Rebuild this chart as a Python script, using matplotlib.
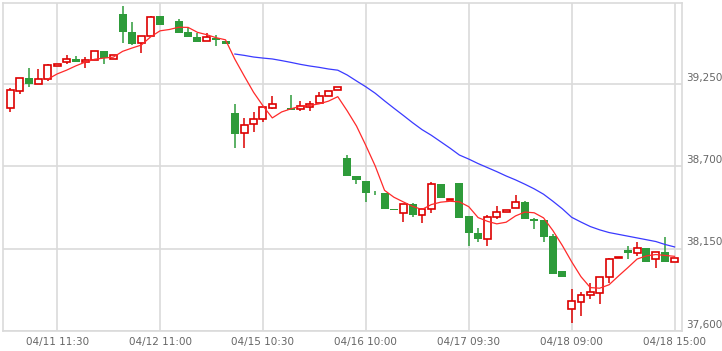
#!/usr/bin/env python
"""Intraday candlestick chart with moving averages."""

import numpy as np
import matplotlib
matplotlib.use('Agg')
import matplotlib.pyplot as plt


# Chart data
# ----------

# 30-minute bars, one list per field
opens = [39090, 39205, 39290, 39250, 39283, 39374, 39401, 39417, 39399, 39410,
         39470, 39421, 39720, 39595, 39524, 39573, 39708, 39648, 39673, 39595,
         39568, 39535, 39559, 39539, 39060, 38923, 38983, 39016, 39090, 39117,
         39090, 39085, 39100, 39123, 39170, 39212, 38759, 38637, 38604, 38524,
         38522, 38410, 38388, 38448, 38375, 38415, 38584, 38476, 38588, 38370,
         38254, 38214, 38361, 38395, 38421, 38461, 38348, 38343, 38232, 37998,
         37750, 37797, 37840, 37857, 37960, 38085, 38141, 38121, 38154, 38080,
         38127, 38064]
highs = [39223, 39292, 39357, 39350, 39384, 39386, 39446, 39439, 39434, 39470,
         39470, 39444, 39773, 39664, 39573, 39706, 39708, 39648, 39686, 39628,
         39591, 39591, 39581, 39539, 39118, 39023, 39063, 39096, 39172, 39117,
         39174, 39140, 39140, 39194, 39203, 39230, 38773, 38637, 38604, 38537,
         38522, 38410, 38448, 38455, 38415, 38595, 38584, 38480, 38588, 38370,
         38288, 38374, 38435, 38408, 38508, 38472, 38358, 38343, 38248, 37998,
         37880, 37862, 37920, 37960, 38089, 38094, 38169, 38194, 38154, 38127,
         38225, 38087]
lows = [39063, 39183, 39230, 39250, 39272, 39372, 39384, 39399, 39357, 39410,
        39386, 39421, 39528, 39513, 39457, 39573, 39644, 39642, 39591, 39568,
        39533, 39535, 39506, 39521, 38822, 38822, 38927, 39000, 39083, 39115,
        39080, 39073, 39071, 39123, 39170, 39212, 38639, 38582, 38461, 38506,
        38415, 38408, 38328, 38365, 38325, 38388, 38486, 38476, 38352, 38165,
        38194, 38169, 38348, 38395, 38421, 38348, 38285, 38198, 37980, 37964,
        37653, 37697, 37815, 37780, 37924, 38085, 38082, 38098, 38060, 38020,
        38064, 38064]
closes = [39212, 39290, 39254, 39283, 39377, 39384, 39417, 39399, 39410, 39470,
          39426, 39444, 39595, 39519, 39573, 39698, 39644, 39642, 39591, 39568,
          39533, 39564, 39544, 39521, 38916, 38976, 39016, 39096, 39116, 39115,
          39080, 39105, 39120, 39170, 39203, 39230, 38639, 38606, 38522, 38520,
          38415, 38408, 38448, 38372, 38415, 38582, 38486, 38480, 38352, 38254,
          38218, 38361, 38395, 38408, 38461, 38348, 38338, 38225, 37984, 37964,
          37802, 37840, 37862, 37960, 38080, 38094, 38118, 38154, 38064, 38127,
          38064, 38087]

# short moving average, starts at bar 4
ma_short = [39283, 39318, 39343, 39372, 39397, 39416, 39424, 39430, 39469,
            39491, 39511, 39566, 39606, 39615, 39630, 39629, 39596, 39580,
            39560, 39546, 39416, 39304, 39195, 39105, 39024, 39064, 39085,
            39102, 39107, 39118, 39136, 39166, 39072, 38970, 38840, 38703,
            38540, 38494, 38463, 38433, 38412, 38445, 38461, 38467, 38463,
            38431, 38358, 38333, 38316, 38327, 38369, 38395, 38390, 38356,
            38271, 38172, 38063, 37963, 37890, 37886, 37909, 37967, 38023,
            38081, 38102, 38111, 38105, 38099]

# long moving average, starts at bar 24
ma_long = [39451, 39442, 39431, 39424, 39418, 39407, 39395, 39382, 39371,
           39362, 39351, 39343, 39311, 39271, 39232, 39189, 39138, 39089,
           39041, 38992, 38946, 38908, 38865, 38822, 38776, 38749, 38719,
           38692, 38665, 38636, 38610, 38581, 38550, 38514, 38467, 38417,
           38360, 38328, 38298, 38276, 38258, 38246, 38234, 38222, 38210,
           38198, 38178, 38162]

# axis ticks
xtick_pos = [5, 16, 27, 38, 49, 60, 71]
xtick_labels = ['04/11 11:30', '04/12 11:00', '04/15 10:30', '04/16 10:00',
                '04/17 09:30', '04/18 09:00', '04/18 15:00']
ytick_values = [37600, 38150, 38700, 39250]


# Figure creation
# ---------------

fig = plt.figure(figsize=(7.22, 3.51), dpi=100)
ax = fig.add_axes([3/722, 20/351, 679/722, 328/351])

red = '#dd0000'
green = '#2e9b3a'
grid = '#dadada'

# candles
x = np.arange(len(closes))
o = np.array(opens)
c = np.array(closes)
up = c >= o
ax.vlines(x[up], np.array(lows)[up], np.array(highs)[up], color=red,
          lw=1.1, zorder=2)
ax.vlines(x[~up], np.array(lows)[~up], np.array(highs)[~up], color=green,
          lw=1.1, zorder=2)
bottom = np.minimum(o, c)
height = np.maximum(np.abs(c - o), 5)
ax.bar(x[up], height[up], bottom=bottom[up], width=0.74, facecolor='white',
       edgecolor=red, lw=1.2, zorder=3)
ax.bar(x[~up], height[~up], bottom=bottom[~up], width=0.86, color=green,
       lw=0, zorder=3)

# moving averages
ax.plot(x[4:], ma_short, color='#ff2a2a', lw=0.9, zorder=4)
ax.plot(x[24:], ma_long, color='#3a3aff', lw=0.9, zorder=4)

# axes limits and grid
ax.set_xlim(-0.79, 71.8)
ax.set_ylim(37600, 39792)
for xv in xtick_pos:
    ax.axvline(xv, color=grid, lw=1.2, zorder=0)
for yv in ytick_values:
    ax.axhline(yv, color=grid, lw=1.2, zorder=0)
for side in ax.spines.values():
    side.set_color(grid)
    side.set_linewidth(1.2)

# tick labels
ax.set_xticks(xtick_pos)
ax.set_xticklabels(xtick_labels)
ax.set_yticks([])
ax.tick_params(axis='x', length=0, pad=4, labelsize=7.5, labelcolor='#666666')
for yv in ytick_values:
    ax.annotate('{:,d}'.format(yv), xy=(1, yv), xycoords=('axes fraction', 'data'),
                xytext=(3, 1), textcoords='offset points', ha='left',
                va='bottom', fontsize=7.5, color='#666666', annotation_clip=False)

fig.savefig('out.png', dpi=100)
